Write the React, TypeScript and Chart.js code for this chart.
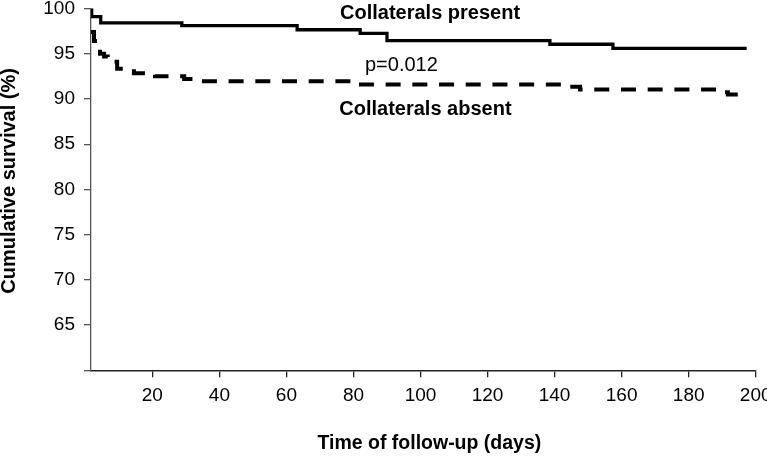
import React, { useEffect, useRef } from "react";
import { Chart, registerables } from "chart.js";

Chart.register(...registerables);

// Kaplan-Meier curve: collaterals present (days, cumulative survival %)
const presentDays = [1.7, 1.9, 4.6, 28.8, 63.2, 82.0, 90.0, 138.6, 157.4, 197.3];
const presentSurvival = [100, 99.1, 98.4, 98.1, 97.65, 97.25, 96.45, 96.05, 95.6, 95.6];

// Kaplan-Meier curve: collaterals absent
const absentDays = [1.7, 2.6, 4.4, 5.6, 6.7, 7.9, 9.5, 14.5, 20.8, 29.5, 34.5, 79.5, 143.1, 147.6, 188.7, 191.7, 194.7, 197.3];
const absentSurvival = [97.4, 96.4, 95.0, 94.7, 94.4, 94.1, 93.35, 92.85, 92.5, 92.2, 91.95, 91.6, 91.35, 91.05, 90.75, 90.5, 90.25, 90.25];

const xTickValues = [20, 40, 60, 80, 100, 120, 140, 160, 180, 200];
const yTickValues = [60, 65, 70, 75, 80, 85, 90, 95, 100];

const annotationTexts = ["Collaterals present", "p=0.012", "Collaterals absent"];
const annotationDays = [75.98, 83.44, 75.77];
const annotationSurvival = [98.84, 93.09, 88.23];
const annotationBold = [true, false, true];

const xTitle = "Time of follow-up (days)";
const yTitle = "Cumulative survival (%)";

const FONT = '"Liberation Sans", Arial, Helvetica, sans-serif';

export default function App() {
  const ref = useRef<HTMLCanvasElement>(null);

  useEffect(() => {
    document.body.style.margin = "0";
    const canvas = ref.current;
    if (!canvas) return;

    const textPlugin = {
      id: "kmTexts",
      afterDraw(chart: any) {
        const { ctx, chartArea, scales } = chart;
        ctx.save();
        ctx.fillStyle = "#000";
        ctx.textBaseline = "alphabetic";
        ctx.textAlign = "left";
        annotationTexts.forEach((t, i) => {
          ctx.font = `${annotationBold[i] ? "bold " : ""}20px ${FONT}`;
          ctx.fillText(
            t,
            scales.x.getPixelForValue(annotationDays[i]),
            scales.y.getPixelForValue(annotationSurvival[i])
          );
        });
        ctx.font = `bold 19.5px ${FONT}`;
        ctx.textAlign = "center";
        ctx.fillText(xTitle, (chartArea.left + chartArea.right) / 2 + 6, chartArea.bottom + 79);
        ctx.translate(chartArea.left - 76.5, (chartArea.top + chartArea.bottom) / 2 - 8.5);
        ctx.rotate(-Math.PI / 2);
        ctx.font = `bold 20px ${FONT}`;
        ctx.fillText(yTitle, 0, 0);
        ctx.restore();
      },
    };

    const chart = new Chart(canvas, {
      type: "line",
      data: {
        datasets: [
          {
            label: "Collaterals present",
            data: presentDays.map((d, i) => ({ x: d, y: presentSurvival[i] })),
            borderColor: "#000",
            borderWidth: 3.3,
            pointRadius: 0,
            stepped: true,
            fill: false,
          },
          {
            label: "Collaterals absent",
            data: absentDays.map((d, i) => ({ x: d, y: absentSurvival[i] })),
            borderColor: "#000",
            borderWidth: 4,
            borderDash: [15, 11.7],
            borderCapStyle: "butt",
            pointRadius: 0,
            stepped: true,
            fill: false,
          },
        ],
      },
      options: {
        responsive: false,
        animation: false,
        layout: { padding: { top: 8.5, right: 11.3, bottom: 0, left: 0 } },
        plugins: { legend: { display: false }, tooltip: { enabled: false } },
        scales: {
          x: {
            type: "linear",
            min: 1.7,
            max: 200,
            afterBuildTicks: (s: any) => {
              s.ticks = xTickValues.map((v) => ({ value: v }));
            },
            afterFit: (s: any) => {
              s.height = 85.7;
              s.paddingLeft = 0;
              s.paddingRight = 0;
            },
            ticks: {
              autoSkip: false,
              maxRotation: 0,
              padding: 7,
              color: "#000",
              font: { family: FONT, size: 19 },
              callback: (v: any) => String(v),
            },
            grid: {
              drawOnChartArea: false,
              drawTicks: true,
              tickLength: 7,
              color: "#222",
              lineWidth: 1.3,
            },
            border: { display: true, color: "#222", width: 1.5 },
          },
          y: {
            type: "linear",
            min: 60,
            max: 100,
            afterBuildTicks: (s: any) => {
              s.ticks = yTickValues.map((v) => ({ value: v }));
            },
            afterFit: (s: any) => {
              s.width = 91;
              s.paddingTop = 0;
              s.paddingBottom = 0;
            },
            ticks: {
              padding: 9,
              color: "#000",
              font: { family: FONT, size: 19 },
              callback: (v: any) => (v === 60 ? "" : String(v)),
            },
            grid: {
              drawOnChartArea: false,
              drawTicks: true,
              tickLength: 7,
              color: "#555",
              lineWidth: 1.3,
            },
            border: { display: true, color: "#555", width: 1.3 },
          },
        },
      },
      plugins: [textPlugin],
    } as any);

    return () => chart.destroy();
  }, []);

  return (
    <div style={{ width: 767, height: 456, background: "#fff" }}>
      <canvas ref={ref} width={767} height={456} style={{ display: "block" }} />
    </div>
  );
}
